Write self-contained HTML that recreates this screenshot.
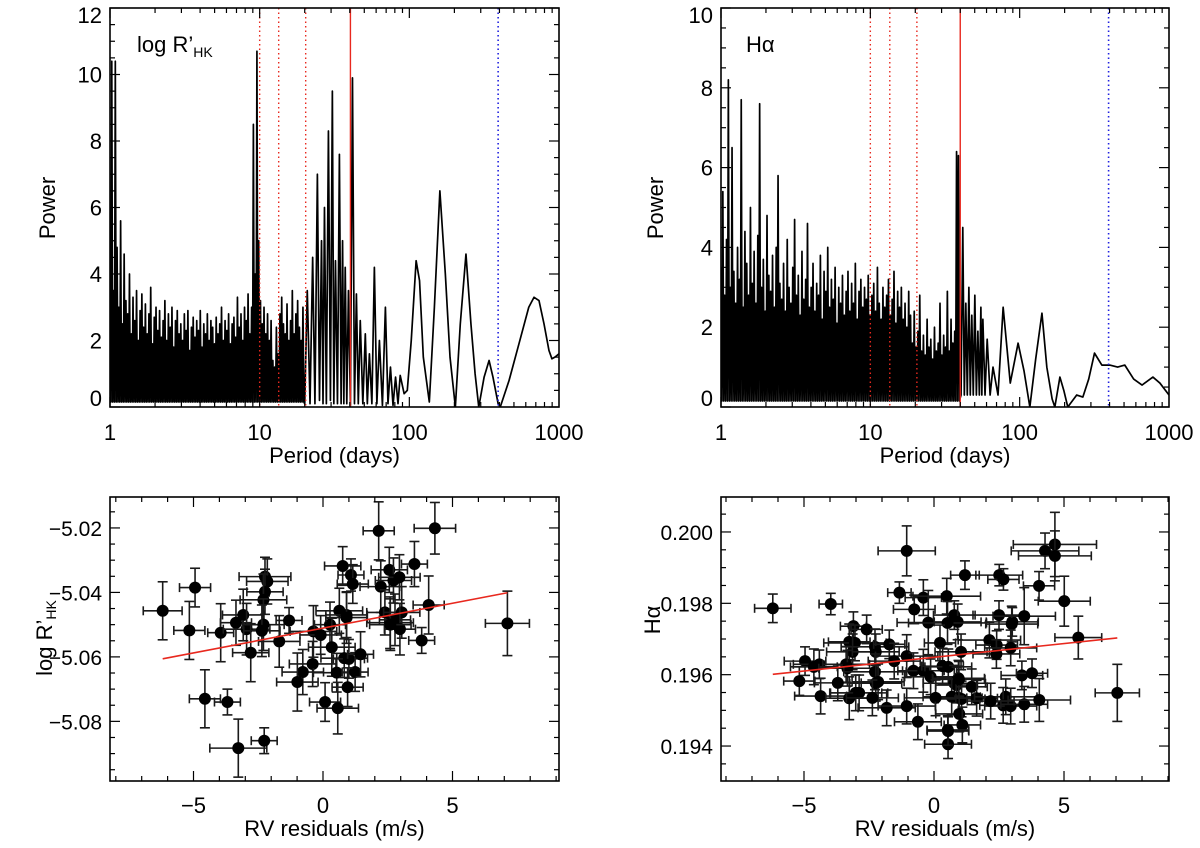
<!DOCTYPE html>
<html><head><meta charset="utf-8">
<style>
html,body{margin:0;padding:0;background:#fff;}
svg{display:block;font-family:"Liberation Sans",Arial,sans-serif;}
</style></head>
<body>
<svg id="fig" width="1200" height="848" viewBox="0 0 1200 848" xmlns="http://www.w3.org/2000/svg"></svg>
<script>
// ---------- DATA ----------
const hkDenseStart = 1.0;
const hkDenseEnd = 20.0;
const hkDensePowers = [6.0,10.4,3.5,10.4,4.8,3.0,5.6,2.5,4.6,3.2,
2.8,4.0,2.2,3.3,2.6,3.5,2.0,2.9,3.4,2.4,
3.1,2.2,2.8,3.6,1.9,2.7,3.0,2.3,2.9,2.1,
2.6,3.2,2.0,2.8,2.4,3.0,1.8,2.6,2.9,2.2,
2.5,2.0,2.8,2.3,2.9,1.7,2.4,2.7,2.1,2.6,
2.3,2.9,1.8,2.5,2.2,2.8,2.0,2.6,2.4,1.9,
2.7,2.2,2.5,3.0,2.0,2.6,2.3,2.8,1.9,2.5,
2.7,2.1,3.3,2.4,2.8,2.0,3.0,2.6,3.4,2.2,
3.0,8.5,4.0,10.7,5.0,3.2,2.5,3.0,2.2,2.8,
2.0,2.6,1.4,1.2,2.4,1.6,2.8,3.3,2.5,2.2,
3.1,2.0,2.6,3.5,2.2,2.8,3.2,2.4,2.0,3.0];
const hkPeriods = [20.0,20.8,21.7,22.6,23.4,24.3,25.1,25.9,26.5,27.1,27.9,28.8,29.7,30.6,31.3,32.1,33.1,34.1,35.0,35.8,36.5,37.3,38.2,39.2,40.4,41.7,43.0,44.3,45.6,47.0,48.9,50.8,52.4,54.1,56.2,58.4,60.7,63.1,66.1,69.2,72.0,74.8,77.8,80.9,84.0,86.9,92.3,96.9,103,111,117,124,136,147,160,174,187,203,219,239,258,275,291,316,341,362,392,405,464,540,628,681,735,794,857,897,939,1000];
const hkPowers = [0.1,3.5,0.1,4.5,0.1,7.0,0.2,5.0,0.1,6.0,0.1,8.3,0.2,9.5,0.1,4.4,0.1,7.6,0.1,5.0,0.1,4.2,0.1,3.5,0.05,9.9,0.1,3.4,0.1,2.6,0.1,2.2,0.1,1.6,0.1,4.2,0.1,2.0,0.05,3.0,0.1,1.2,0.05,0.9,0.1,0.95,0.4,0.5,2.0,4.4,3.8,1.5,0.15,3.0,6.5,4.0,1.5,0.0,2.5,4.6,2.5,1.0,0.0,0.9,1.4,0.9,0.1,0.0,0.8,1.9,3.0,3.3,3.2,2.5,1.7,1.45,1.5,1.6];
const hkDottedRed = [10.0,13.4,20.3];
const hkSolidRed = [40.4];
const hkDottedBlue = [392];

const haDenseStart = 1.0;
const haDenseEnd = 40.0;
const haDensePowers = [3.5,5.4,2.8,4.2,8.2,3.0,6.5,3.4,2.6,4.0,
3.2,7.7,2.5,4.4,3.6,2.8,5.0,3.1,3.9,2.6,
4.3,7.6,3.0,3.7,2.4,4.8,3.3,2.9,3.8,2.5,
4.0,5.8,3.1,2.7,3.6,2.4,4.2,3.0,2.6,3.5,
4.7,2.8,3.3,2.3,3.9,2.7,3.2,4.6,2.5,3.0,
3.6,2.4,3.1,2.8,3.8,2.2,3.4,2.9,4.0,2.5,
3.2,2.7,3.5,2.1,3.0,2.6,3.3,2.3,2.9,3.4,
2.4,3.1,2.6,3.6,2.2,2.9,3.2,2.5,3.0,2.7,
3.3,2.3,2.8,3.1,2.4,3.5,2.6,2.2,3.0,2.5,
2.8,3.2,2.3,2.7,3.4,2.1,2.9,2.5,3.0,2.2,
2.6,2.0,2.9,2.3,1.6,2.4,1.5,1.9,2.8,1.4,
1.8,1.3,2.2,1.5,1.7,1.2,2.0,1.4,1.6,2.6,
1.3,1.8,1.5,2.9,1.4,2.2,1.6,1.9,6.4,6.3];
const haPeriods = [40.5,41.6,42.6,43.6,44.6,45.7,46.7,47.8,48.9,50.1,51.3,52.5,53.7,55.0,55.8,56.7,58.6,60.6,63.4,66.3,71.6,77.5,86.5,97.6,107,117,128,141,152,165,172,186,198,210,241,265,290,317,355,401,453,506,580,660,780,869,1000];
const haPowers = [0.3,4.5,0.3,2.6,0.3,3.0,0.3,2.3,0.3,2.8,0.3,1.9,0.3,2.5,0.3,2.2,0.3,1.7,0.3,1.0,0.3,2.5,0.6,1.6,0.9,0.0,1.2,2.35,1.0,0.2,0.0,0.75,0.4,0.0,0.3,0.25,0.7,1.35,1.05,1.05,1.0,1.05,0.7,0.55,0.75,0.6,0.3];
const haDottedRed = [10.0,13.5,20.5];
const haSolidRed = [40.0];
const haDottedBlue = [394];

const blX = [-6.19,-4.94,-5.16,-4.56,-3.69,-3.95,-3.36,-3.08,-2.95,-2.79,-2.24,-2.15,-2.24,-2.30,-2.30,-2.36,-3.27,-2.27,-1.69,-1.31,-0.78,-0.99,-0.40,-0.37,-0.09,0.27,0.34,0.08,0.57,0.53,0.76,1.08,1.15,0.63,0.91,0.91,0.82,1.00,1.24,1.45,0.95,2.15,2.23,2.56,2.72,2.95,3.53,4.32,2.39,2.59,2.78,3.04,2.97,2.60,4.08,3.81,7.12];
const blY = [-5.0457,-5.0385,-5.0518,-5.073,-5.074,-5.0525,-5.0494,-5.047,-5.0514,-5.0587,-5.0351,-5.0366,-5.0398,-5.0423,-5.050,-5.0519,-5.0883,-5.086,-5.0552,-5.0487,-5.0647,-5.0678,-5.0622,-5.0521,-5.0532,-5.050,-5.057,-5.074,-5.0759,-5.0649,-5.0318,-5.0346,-5.0374,-5.0457,-5.047,-5.0478,-5.0604,-5.0606,-5.0647,-5.0592,-5.0694,-5.0209,-5.0382,-5.033,-5.0363,-5.0353,-5.0312,-5.0201,-5.0462,-5.0494,-5.0485,-5.0462,-5.0514,-5.050,-5.0439,-5.0549,-5.0496];
const blEx = [0.75,0.6,0.6,0.6,0.5,0.5,0.6,0.8,0.9,0.7,1.0,0.8,0.7,0.9,0.8,0.7,1.1,0.5,0.8,0.5,0.8,0.8,0.9,0.9,0.8,0.6,0.9,0.6,0.8,0.9,0.7,0.5,0.6,0.9,0.8,0.8,0.9,0.6,0.5,0.5,0.6,0.6,0.8,0.7,0.7,0.8,0.5,0.8,0.7,0.9,0.6,0.7,0.6,0.8,0.6,0.5,0.85];
const blEy = [0.009,0.006,0.009,0.009,0.004,0.009,0.007,0.008,0.008,0.009,0.006,0.007,0.007,0.008,0.008,0.008,0.009,0.004,0.008,0.004,0.007,0.009,0.007,0.008,0.006,0.007,0.009,0.006,0.008,0.006,0.006,0.005,0.006,0.007,0.007,0.008,0.006,0.006,0.006,0.007,0.006,0.009,0.008,0.007,0.007,0.007,0.007,0.008,0.007,0.008,0.008,0.008,0.008,0.008,0.009,0.004,0.010];
const blFitX = [-6.19,7.12];
const blFitY = [-5.0606,-5.0401];

const brX = [-6.20,-3.97,-1.05,4.27,4.65,4.65,1.19,2.51,2.67,4.04,5.01,5.55,7.05,-1.33,-0.41,0.49,-0.76,-0.22,0.78,0.91,0.52,2.50,3.01,2.99,3.47,-3.10,-2.59,-3.26,-3.04,-3.13,-2.27,-2.24,-1.72,-1.05,-1.53,0.23,1.04,2.13,2.41,2.40,2.95,-4.96,-4.41,-4.62,-5.18,-3.38,-3.33,-3.70,-2.27,-2.24,-2.15,-0.79,-0.41,-0.13,0.33,0.55,0.94,0.78,0.87,0.68,1.45,0.95,1.06,1.64,0.06,-4.36,-3.26,-3.01,-2.88,-2.37,-1.82,-1.05,-0.62,0.97,1.09,0.53,2.76,2.66,2.95,2.18,3.47,4.05,3.38,3.77,0.96,0.54,0.54];
const brY = [0.19786,0.19798,0.19947,0.19947,0.19965,0.19933,0.19879,0.19879,0.19867,0.19849,0.19806,0.19704,0.19549,0.1983,0.19816,0.1982,0.19783,0.19746,0.19767,0.19748,0.19745,0.19767,0.19748,0.19742,0.19764,0.19736,0.19727,0.19692,0.19689,0.19664,0.19678,0.19664,0.19685,0.19652,0.19638,0.19689,0.19664,0.19697,0.19683,0.19658,0.19675,0.19638,0.19629,0.19622,0.19582,0.19629,0.19618,0.19577,0.19608,0.19576,0.1958,0.19611,0.19611,0.19594,0.19624,0.19622,0.1959,0.19576,0.19571,0.19538,0.19566,0.19535,0.19532,0.19534,0.19535,0.1954,0.19534,0.19549,0.19549,0.19535,0.19507,0.19512,0.19468,0.1949,0.19459,0.19445,0.19538,0.19514,0.19512,0.19526,0.19517,0.19529,0.19598,0.19604,0.19587,0.19405,0.19442];
const brEx = [0.7,0.45,1.1,1.3,1.6,1.4,0.55,0.9,0.6,0.6,1.0,0.9,0.85,0.45,0.7,1.3,0.8,1.2,0.8,0.9,1.5,1.0,1.0,1.0,1.2,0.5,0.6,0.8,1.2,1.0,1.3,0.9,0.6,1.2,1.0,0.6,1.0,1.2,0.8,0.9,1.0,0.8,1.0,0.9,0.6,0.9,1.1,0.9,1.2,1.0,1.0,0.6,0.8,1.0,0.8,0.9,1.0,1.2,0.8,1.1,0.6,0.9,0.9,0.8,1.2,1.0,0.9,1.0,1.1,1.0,1.1,1.1,0.9,0.9,0.7,0.8,1.2,0.9,1.0,0.9,0.9,1.2,0.8,0.6,1.0,0.9,0.8];
const brEy = [0.0004,0.0003,0.0007,0.0005,0.0009,0.0007,0.0004,0.0003,0.0003,0.0004,0.0007,0.0006,0.0008,0.0003,0.0005,0.0005,0.0004,0.0009,0.0004,0.0005,0.0006,0.0004,0.0004,0.0005,0.0008,0.0004,0.0004,0.0005,0.0005,0.0005,0.0005,0.0005,0.0004,0.0006,0.0005,0.0005,0.0005,0.0005,0.0004,0.0004,0.0005,0.0004,0.0004,0.0005,0.0004,0.0005,0.0005,0.0005,0.0005,0.0005,0.0005,0.0005,0.0006,0.0005,0.0005,0.0005,0.0005,0.0005,0.0005,0.0005,0.0005,0.0005,0.0005,0.0005,0.0005,0.0005,0.0006,0.0005,0.0005,0.0005,0.0005,0.0005,0.0005,0.0005,0.0005,0.0004,0.0005,0.0005,0.0005,0.0005,0.0005,0.0006,0.0004,0.0004,0.0005,0.0004,0.0004];
const brFitX = [-6.20,7.05];
const brFitY = [0.19601,0.19703];

const logTickLabels = ['1','10','100','1000'];
const hkPowerTicks = [0,2,4,6,8,10,12];
const haPowerTicks = [0,2,4,6,8,10];
const rvTicks = [-5,0,5];
const blYTicks = [-5.08,-5.06,-5.04,-5.02];
const brYTicks = [0.194,0.196,0.198,0.200];

// ---------- DRAWING ----------
const NS = 'http://www.w3.org/2000/svg';
const svg = document.getElementById('fig');
function el(tag, parent){ const e = document.createElementNS(NS, tag); parent.appendChild(e); return e; }
function fmtMinus(s){ return s.replace('-', '\u2212'); }

function makePanel(name, x0, x1, y0, y1, xScale, yScale){
  const g = el('g', svg);
  
  
  const cid = 'clip-' + name;
  const cp = el('clipPath', g); cp.setAttribute('id', cid);
  const r = el('rect', cp);
  r.setAttribute('x', x0); r.setAttribute('y', y0); r.setAttribute('width', x1 - x0); r.setAttribute('height', y1 - y0);
  const plot = el('g', g); plot.setAttribute('clip-path', 'url(#' + cid + ')');
  
  
  return {g, plot, x0, x1, y0, y1, sx: xScale, sy: yScale};
}

function line(parent, xa, ya, xb, yb, color, w, dash){
  const l = el('line', parent);
  l.setAttribute('x1', xa); l.setAttribute('y1', ya); l.setAttribute('x2', xb); l.setAttribute('y2', yb);
  l.setAttribute('stroke', color); l.setAttribute('stroke-width', w);
  if (dash) l.setAttribute('stroke-dasharray', dash);
  return l;
}
function text(parent, x, y, s, size, anchor){
  const t = el('text', parent);
  t.setAttribute('x', x); t.setAttribute('y', y);
  t.setAttribute('font-size', size); t.setAttribute('text-anchor', anchor || 'middle');
  t.setAttribute('fill', '#000');
  t.textContent = s;
  return t;
}

function frame(P){
  const r = el('rect', P.g);
  r.setAttribute('x', P.x0); r.setAttribute('y', P.y0);
  r.setAttribute('width', P.x1 - P.x0); r.setAttribute('height', P.y1 - P.y0);
  r.setAttribute('fill', 'none'); r.setAttribute('stroke', '#000'); r.setAttribute('stroke-width', 1.6);
  
  
}

function logXAxis(P, labelY, titleY){
  const ax = el('g', P.g);
  
  
  for (let d = 0; d < 3; d++){
    for (let m = 1; m <= 9; m++){
      const v = Math.pow(10, d) * m;
      const x = P.sx(v);
      const L = m === 1 ? 10 : 5;
      line(ax, x, P.y1, x, P.y1 - L, '#000', 1.2);
      line(ax, x, P.y0, x, P.y0 + L, '#000', 1.2);
    }
  }
  logTickLabels.forEach((s, i) => {
    const t = text(ax, P.sx(Math.pow(10, i)), labelY, s, 22);
    
    
  });
  const tt = text(ax, (P.x0 + P.x1) / 2, titleY, 'Period (days)', 22);
  
  
}

function linYAxis(P, ticks, minor, fmt, clampEnds, fs){
  const ax = el('g', P.g);
  
  
  const lo = Math.min(P.sy.inv(P.y1), P.sy.inv(P.y0)), hi = Math.max(P.sy.inv(P.y1), P.sy.inv(P.y0));
  const n0 = Math.ceil(lo / minor - 1e-6), n1 = Math.floor(hi / minor + 1e-6);
  for (let k = n0; k <= n1; k++){
    const v = k * minor; const y = P.sy(v);
    const isMajor = ticks.some(t => Math.abs(t - v) < minor * 0.01);
    const L = isMajor ? 10 : 5;
    line(ax, P.x0, y, P.x0 + L, y, '#000', 1.2);
    line(ax, P.x1, y, P.x1 - L, y, '#000', 1.2);
  }
  ticks.forEach(v => {
    let cy = P.sy(v);
    if (clampEnds) cy = Math.min(Math.max(cy, P.y0 + 7), P.y1 - 9);
    const t = text(ax, P.x0 - 8, cy + 8, fmt(v), fs, 'end');
    
    
  });
}

function linXAxis(P, ticks, minor, labelY, titleY){
  const ax = el('g', P.g);
  
  
  const lo = P.sx.inv(P.x0), hi = P.sx.inv(P.x1);
  for (let k = Math.ceil(lo / minor); k <= Math.floor(hi / minor); k++){
    const v = k * minor; const x = P.sx(v);
    const L = (Math.abs(v % 5) < 1e-6) ? 10 : 5;
    line(ax, x, P.y1, x, P.y1 - L, '#000', 1.2);
    line(ax, x, P.y0, x, P.y0 + L, '#000', 1.2);
  }
  ticks.forEach(v => {
    const t = text(ax, P.sx(v), labelY, fmtMinus(String(v)), 22);
    
    
  });
  const tt = text(ax, (P.x0 + P.x1) / 2, titleY, 'RV residuals (m/s)', 22);
  
  
}

function linScale(d0, d1, r0, r1){
  const f = v => r0 + (v - d0) / (d1 - d0) * (r1 - r0);
  f.inv = p => d0 + (p - r0) / (r1 - r0) * (d1 - d0);
  return f;
}
function logScale(d0, d1, r0, r1){
  return v => r0 + (Math.log10(v) - Math.log10(d0)) / (Math.log10(d1) - Math.log10(d0)) * (r1 - r0);
}

function periodogram(P, denseStart, denseEnd, densePowers, periods, powers, dRed, sRed, dBlue){
  const pts = [];
  const n = densePowers.length;
  const la = Math.log10(denseStart), lb = Math.log10(denseEnd);
  const step = (lb - la) / n;
  for (let i = 0; i < n; i++){
    const lp = la + i * step;
    pts.push([P.sx(Math.pow(10, lp)), P.sy(densePowers[i])]);
    pts.push([P.sx(Math.pow(10, lp + step * 0.5)), P.sy(0.15)]);
  }
  for (let i = 0; i < periods.length; i++) pts.push([P.sx(periods[i]), P.sy(powers[i])]);
  const pl = el('polyline', P.plot);
  pl.setAttribute('points', pts.map(p => p[0].toFixed(2) + ',' + p[1].toFixed(2)).join(' '));
  pl.setAttribute('fill', 'none'); pl.setAttribute('stroke', '#000'); pl.setAttribute('stroke-width', 1.7);
  pl.setAttribute('stroke-linejoin', 'round');
  
  
  dRed.forEach(p => {
    const l = line(P.plot, P.sx(p), P.y0, P.sx(p), P.y1, '#e8281e', 1.4, '1.5,3');
    
    
  });
  sRed.forEach(p => {
    const l = line(P.plot, P.sx(p), P.y0, P.sx(p), P.y1, '#e8281e', 1.4);
    
    
  });
  dBlue.forEach(p => {
    const l = line(P.plot, P.sx(p), P.y0, P.sx(p), P.y1, '#2020e0', 1.6, '1.5,3');
    
    
  });
}

function scatter(P, xs, ys, exs, eys, fx, fy){
  const g = el('g', P.plot);
  
  
  for (let i = 0; i < xs.length; i++){
    const ex = exs[i] !== undefined ? exs[i] : 0.8;
    const ey = eys[i] !== undefined ? eys[i] : eys[0];
    const cx = P.sx(xs[i]), cy = P.sy(ys[i]);
    const xa = P.sx(xs[i] - ex), xb = P.sx(xs[i] + ex);
    const ya = P.sy(ys[i] - ey), yb = P.sy(ys[i] + ey);
    const c = '#1a1a1a';
    line(g, xa, cy, xb, cy, c, 1.6);
    line(g, cx, ya, cx, yb, c, 1.6);
    line(g, xa, cy - 4.5, xa, cy + 4.5, c, 1.6);
    line(g, xb, cy - 4.5, xb, cy + 4.5, c, 1.6);
    line(g, cx - 5, ya, cx + 5, ya, c, 1.6);
    line(g, cx - 5, yb, cx + 5, yb, c, 1.6);
    const dot = el('circle', g);
    dot.setAttribute('cx', cx); dot.setAttribute('cy', cy); dot.setAttribute('r', 6);
    dot.setAttribute('fill', '#000');
    
    
  }
  const fl = line(P.plot, P.sx(fx[0]), P.sy(fy[0]), P.sx(fx[1]), P.sy(fy[1]), '#e8281e', 1.6);
  
  
}

const P1 = makePanel('hk-periodogram', 110, 559, 8, 407, logScale(1, 1000, 110, 559), linScale(0, 12, 407, 8));
periodogram(P1, hkDenseStart, hkDenseEnd, hkDensePowers, hkPeriods, hkPowers, hkDottedRed, hkSolidRed, hkDottedBlue);
frame(P1); logXAxis(P1, 440, 463);
linYAxis(P1, hkPowerTicks, 0.5, v => String(v), true, 22);

const P2 = makePanel('halpha-periodogram', 721, 1169, 8, 407, logScale(1, 1000, 721, 1169), linScale(0, 10, 407, 8));
periodogram(P2, haDenseStart, haDenseEnd, haDensePowers, haPeriods, haPowers, haDottedRed, haSolidRed, haDottedBlue);
frame(P2); logXAxis(P2, 440, 463);
linYAxis(P2, haPowerTicks, 0.5, v => String(v), true, 22);

const P3 = makePanel('hk-vs-rv', 110, 559, 497, 781, linScale(-8.224, 9.112, 110, 559), linScale(-5.0985, -5.0104, 781, 497));
scatter(P3, blX, blY, blEx, blEy, blFitX, blFitY);
frame(P3); linXAxis(P3, rvTicks, 1, 813, 836);
linYAxis(P3, blYTicks, 0.005, v => fmtMinus(v.toFixed(2)), false, 21);

const P4 = makePanel('halpha-vs-rv', 721, 1169, 497, 781, linScale(-8.192, 9.038, 721, 1169), linScale(0.19302, 0.20098, 781, 497));
scatter(P4, brX, brY, brEx, brEy, brFitX, brFitY);
frame(P4); linXAxis(P4, rvTicks, 1, 813, 836);
linYAxis(P4, brYTicks, 0.0005, v => v.toFixed(3), false, 21);

function rotTitle(x, y, name){
  const t = el('text', svg);
  t.setAttribute('transform', 'translate(' + x + ',' + y + ') rotate(-90)');
  t.setAttribute('text-anchor', 'middle'); t.setAttribute('font-size', 22);
  
  
  return t;
}
let t1 = rotTitle(55, 208, 'y-axis-title-power-hk'); t1.textContent = 'Power';
let t2 = rotTitle(663, 208, 'y-axis-title-power-halpha'); t2.textContent = 'Power';
let t3 = rotTitle(52, 638, 'y-axis-title-log-rhk');
t3.appendChild(document.createTextNode('log R\u2019'));
let s3 = el('tspan', t3); s3.setAttribute('font-size', 14); s3.setAttribute('dy', 4); s3.textContent = 'HK';
let t4 = rotTitle(660, 620, 'y-axis-title-halpha'); t4.textContent = 'H\u03b1';

const lab1 = el('text', svg);
lab1.setAttribute('x', 137); lab1.setAttribute('y', 52); lab1.setAttribute('font-size', 22);


lab1.appendChild(document.createTextNode('log R\u2019'));
const sub1 = el('tspan', lab1); sub1.setAttribute('font-size', 14); sub1.setAttribute('dy', 5); sub1.textContent = 'HK';
const lab2 = el('text', svg);
lab2.setAttribute('x', 746); lab2.setAttribute('y', 52); lab2.setAttribute('font-size', 22);


lab2.textContent = 'H\u03b1';
</script>
</body></html>
